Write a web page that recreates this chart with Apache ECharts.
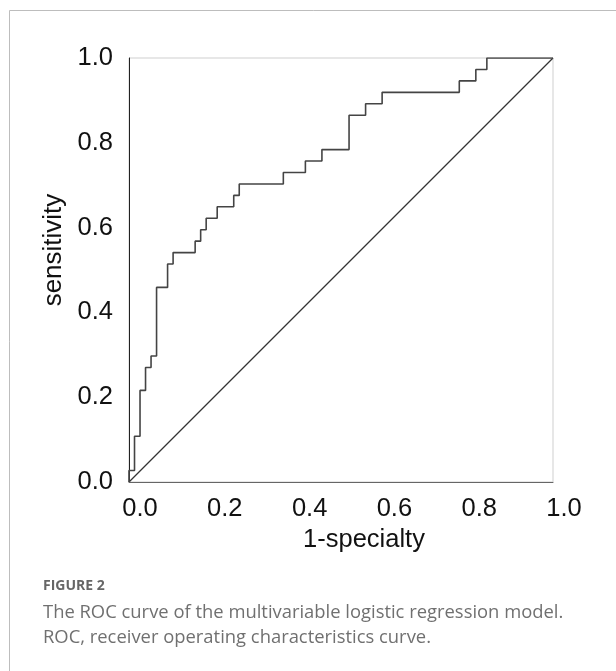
<!DOCTYPE html>
<html>
<head>
<meta charset="utf-8">
<script src="https://cdn.jsdelivr.net/npm/echarts@6/dist/echarts.min.js"></script>
<style>
  html, body { margin: 0; padding: 0; background: #fff; }
  #chart { width: 616px; height: 671px; }
</style>
</head>
<body>
<div id="chart"></div>
<script>
// ROC corner points (1-specificity, sensitivity)
var fpr = [0, 0, 0.013, 0.026, 0.039, 0.052, 0.065, 0.091, 0.104, 0.156, 0.169, 0.182,
    0.208, 0.247, 0.260, 0.364, 0.416, 0.455, 0.519, 0.558, 0.597, 0.779, 0.818, 0.844, 1.0];
var tpr = [0, 0.027, 0.108, 0.216, 0.270, 0.297, 0.459, 0.514, 0.541, 0.568, 0.595, 0.622,
    0.649, 0.676, 0.703, 0.730, 0.757, 0.784, 0.865, 0.892, 0.919, 0.946, 0.973, 1.0, 1.0];
// reference diagonal
var refX = [0, 1];
var refY = [0, 1];

var xTitle = '1-specialty';
var yTitle = 'sensitivity';
var captionHead = 'FIGURE 2';
var captionLines = [
    'The ROC curve of the multivariable logistic regression model.',
    'ROC, receiver operating characteristics curve.'
];

function pairs(xs, ys) {
    return xs.map(function (x, i) { return [x, ys[i]]; });
}

var chart = echarts.init(document.getElementById('chart'));

chart.setOption({
    animation: false,
    backgroundColor: '#fff',
    grid: {
        left: 129,
        top: 58,
        right: 63,
        bottom: 189,
        show: true,
        borderColor: '#cfcfcf',
        borderWidth: 1
    },
    xAxis: {
        type: 'value',
        min: 0,
        max: 1,
        interval: 0.2,
        name: xTitle,
        nameLocation: 'middle',
        nameGap: 41,
        nameTextStyle: {
            fontFamily: 'Liberation Sans',
            fontSize: 25.5,
            color: '#111',
            padding: [0, 0, 0, 46]
        },
        axisLine: { lineStyle: { color: '#666', width: 1 } },
        axisTick: { show: false },
        splitLine: { show: false },
        axisLabel: {
            margin: 14,
            fontFamily: 'Liberation Sans',
            fontSize: 25.5,
            color: '#111',
            padding: [0, 0, 0, 22],
            formatter: function (v) { return v.toFixed(1); }
        }
    },
    yAxis: {
        type: 'value',
        min: 0,
        max: 1,
        interval: 0.2,
        name: yTitle,
        nameLocation: 'middle',
        nameGap: 61,
        nameTextStyle: {
            fontFamily: 'Liberation Sans',
            fontSize: 26,
            color: '#111',
            padding: [0, 0, 0, 40]
        },
        axisLine: { show: true, lineStyle: { color: '#222', width: 1 } },
        axisTick: { show: false },
        splitLine: { show: false },
        axisLabel: {
            margin: 16,
            fontFamily: 'Liberation Sans',
            fontSize: 25.5,
            color: '#111',
            padding: [0, 0, 6, 0],
            formatter: function (v) { return v.toFixed(1); }
        }
    },
    series: [
        {
            type: 'line',
            data: pairs(refX, refY),
            symbol: 'none',
            lineStyle: { color: '#333', width: 1.2 },
            silent: true
        },
        {
            type: 'line',
            step: 'end',
            data: pairs(fpr, tpr),
            symbol: 'none',
            lineStyle: { color: '#444', width: 1.6 },
            silent: true
        }
    ],
    graphic: [
        {
            type: 'rect',
            shape: { x: 9.5, y: 10.5, width: 700, height: 700 },
            style: { fill: 'none', stroke: '#bdbdbd', lineWidth: 1 },
            silent: true
        },
        {
            type: 'text',
            left: 43,
            top: 579,
            style: {
                text: captionHead,
                fontFamily: 'Open Sans',
                fontWeight: 'bold',
                fontSize: 14,
                fill: '#666'
            }
        },
        {
            type: 'text',
            left: 43,
            top: 600,
            style: {
                text: captionLines.join('\n'),
                fontFamily: 'Open Sans',
                fontSize: 18.4,
                lineHeight: 25,
                fill: '#707070'
            }
        }
    ]
});
</script>
</body>
</html>
